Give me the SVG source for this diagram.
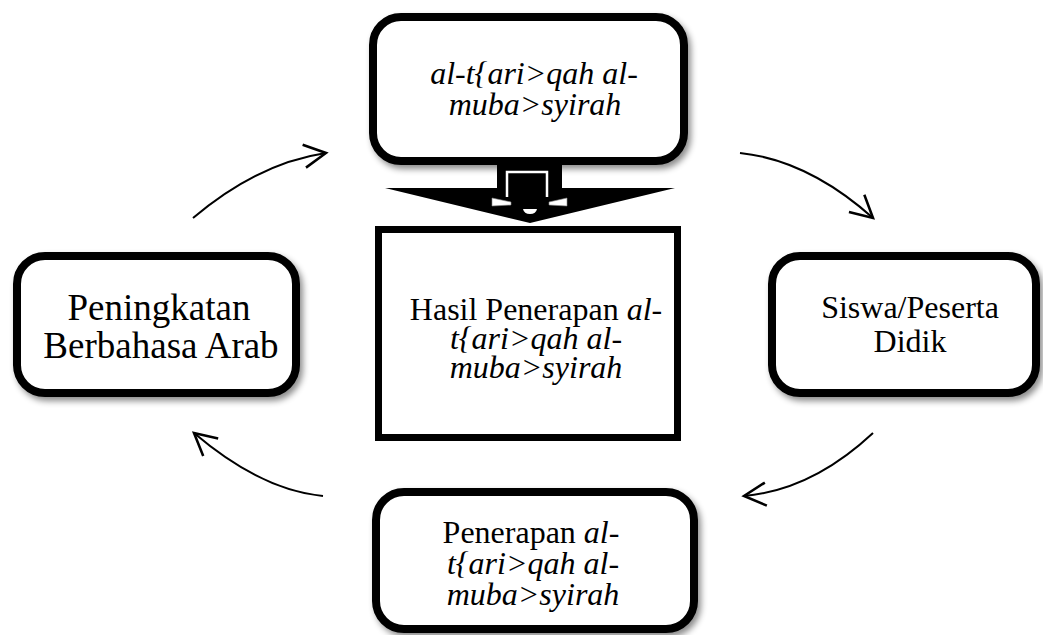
<svg xmlns="http://www.w3.org/2000/svg" width="1043" height="635" viewBox="0 0 1043 635">
<style>
.box{fill:#fff;stroke:#000;stroke-width:8;filter:url(#sh)}
.rect{fill:#fff;stroke:#000;stroke-width:7}
.t{font-family:"Liberation Serif","Times New Roman",serif;font-size:32px;fill:#000;text-anchor:middle}
.big{font-size:37px}
.i{font-style:italic}
.arc{fill:none;stroke:#000;stroke-width:2;marker-end:url(#ah)}
</style>
<defs>
<filter id="sh" x="-10%" y="-10%" width="125%" height="130%">
<feDropShadow dx="3" dy="4" stdDeviation="3" flood-color="#000" flood-opacity="0.45"/>
</filter>
<marker id="ah" markerUnits="userSpaceOnUse" markerWidth="30" markerHeight="30" refX="0" refY="0" viewBox="-22 -12 26 24" orient="auto">
<path d="M-19,-10 L0,0 L-19,10" fill="none" stroke="#000" stroke-width="2.2"/>
</marker>
</defs>
<g id="connectors">
<path class="arc" d="M193,218 Q258,163 326,153"/>
<path class="arc" d="M740,153 Q808,160 873,218"/>
<path class="arc" d="M873,433 Q812,490 744,496"/>
<path class="arc" d="M323,496 Q261,490 194,433"/>
</g>
<g id="top">
<rect class="box" x="373" y="17" width="311" height="144" rx="28"/>
<text class="t i"><tspan x="534" y="84">al-t{ari&gt;qah al-</tspan><tspan x="535" y="115">muba&gt;syirah</tspan></text>
</g>
<g id="blockarrow">
<path d="M497,163 H562 V188 H675 L530,223 L385,188 H497 Z" fill="#000"/>
<path d="M507,197 V172 H547 V197" fill="none" stroke="#fff" stroke-width="2.5"/>
<path d="M492,198 L511,202 L511,205 L492,206 Z" fill="#fff" stroke="#888" stroke-width="0.6"/>
<path d="M567,198 L549,202 L549,205 L567,206 Z" fill="#fff" stroke="#888" stroke-width="0.6"/>
<path d="M523,209 H537 Q536,214 530,214 Q524,214 523,209 Z" fill="#fff"/>
</g>
<g id="center">
<rect class="rect" x="378.5" y="229.5" width="299" height="208"/>
<text class="t"><tspan x="536" y="320">Hasil Penerapan <tspan class="i">al-</tspan></tspan><tspan class="i" x="536" y="349">t{ari&gt;qah al-</tspan><tspan class="i" x="536" y="378">muba&gt;syirah</tspan></text>
</g>
<g id="left">
<rect class="box" x="17" y="256" width="279" height="137" rx="28"/>
<text class="t big"><tspan x="159" y="320">Peningkatan</tspan><tspan x="161" y="358">Berbahasa Arab</tspan></text>
</g>
<g id="right">
<rect class="box" x="772" y="256" width="264" height="137" rx="28"/>
<text class="t"><tspan x="910" y="318">Siswa/Peserta</tspan><tspan x="910" y="352">Didik</tspan></text>
</g>
<g id="bottom">
<rect class="box" x="376" y="492" width="318" height="137" rx="28"/>
<text class="t"><tspan x="531" y="543">Penerapan <tspan class="i">al-</tspan></tspan><tspan class="i" x="533" y="574">t{ari&gt;qah al-</tspan><tspan class="i" x="533" y="605">muba&gt;syirah</tspan></text>
</g>
</svg>
